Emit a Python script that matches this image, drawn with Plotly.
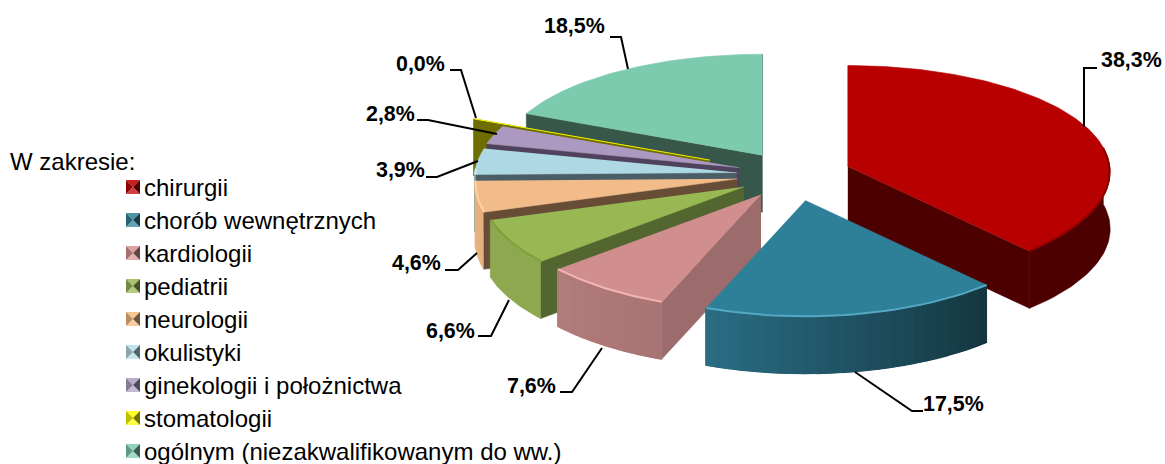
import math
import plotly.graph_objects as go

categories = ["chirurgii", "chorób wewnętrznych", "kardiologii", "pediatrii", "neurologii",
              "okulistyki", "ginekologii i położnictwa", "stomatologii",
              "ogólnym (niezakwalifikowanym do ww.)"]
values = [38.3, 17.5, 7.6, 6.6, 4.6, 3.9, 2.8, 0.04, 18.5]
labels = ["38,3%", "17,5%", "7,6%", "6,6%", "4,6%", "3,9%", "2,8%", "0,0%", "18,5%"]
pulls = [0.22, 0.24, 0.22, 0.22, 0.22, 0.22, 0.22, 0.35, 0.22]

top_colors = ["#b80000", "#2e7f98", "#d08f8e", "#98b854", "#f2bc8a", "#aed8e4", "#ac99c2", "#f4f000", "#7ccbae"]
wall_colors = ["#4d0000", "#14353f", "#9c6b6b", "#546630", "#674c36", "#4b5e66", "#4e425c", "#6e6e00", "#37574b"]
rim_left = ["#4d0000", "#2a6e84", "#b27c7b", "#8da84e", "#e6b080", "#a0c8d4", "#9c8ab0", "#6e6e00", "#37574b"]
rim_right = ["#4d0000", "#14353f", "#a87473", "#8da84e", "#e6b080", "#a0c8d4", "#9c8ab0", "#6e6e00", "#37574b"]
glow_colors = ["#8c0000", "#55a8c2", "#f4b4b2", "#7fa03e", "#ffd0a4", "#c8ecf4", "#c4b4d8", "#f4f000", "#7ccbae"]
swatch_colors = ["#c00000", "#31859c", "#d99694", "#9bbb59", "#f7bc82", "#b7dee8", "#b3a2c7", "#ffff00", "#7fcfb0"]

leaders = [
    [(1097, 68), (1084, 68), (1084, 127)],
    [(855, 372), (912, 411), (923, 411)],
    [(560, 392), (572, 392), (602, 348)],
    [(478, 336), (491, 336), (509, 300)],
    [(445, 270), (458, 270), (477, 253)],
    [(426, 177), (437, 177), (478, 161)],
    [(417, 120), (428, 120), (497, 134)],
    [(450, 70), (461, 70), (476, 118)],
    [(610, 37), (621, 37), (628, 69)],
]
label_pos = [(1131, 60), (953, 404), (531, 386), (450, 331), (416, 263), (400, 170), (390, 114), (420, 64), (574, 26)]

CX, CY, A, B, KX, KY, DEPTH = 794, 175, 262, 108, 0.05, 0.07, 57
W, H = 1165, 464


def pt(theta, r, mid, pull, z=0):
    s, c = math.sin(theta), math.cos(theta)
    return (CX + pull * A * math.sin(mid) + r * A * s / (1 + KX * c),
            CY - pull * B * math.cos(mid) - r * B * c / (1 + KY * c) + z * DEPTH)


def hex_rgb(h):
    return tuple(int(h[i:i + 2], 16) for i in (1, 3, 5))


def mix(c1, c2, t):
    a, b = hex_rgb(c1), hex_rgb(c2)
    return "#%02x%02x%02x" % tuple(round(a[i] + (b[i] - a[i]) * t) for i in range(3))


fig = go.Figure()


def poly(points, color, lw=0.6, name=None):
    fig.add_trace(go.Scatter(x=[p[0] for p in points], y=[p[1] for p in points], mode="lines",
                             fill="toself", fillcolor=color, line=dict(color=color, width=lw),
                             hoverinfo="skip", showlegend=False, name=name))


def stroke(points, color, w):
    fig.add_trace(go.Scatter(x=[p[0] for p in points], y=[p[1] for p in points], mode="lines",
                             line=dict(color=color, width=w), hoverinfo="skip", showlegend=False))


total = sum(values)
angles = [0]
for v in values:
    angles.append(angles[-1] + 2 * math.pi * v / total)

# Painter's order, back to front
for i in [8, 7, 6, 5, 4, 3, 2, 0, 1]:
    t0, t1, p = angles[i], angles[i + 1], pulls[i]
    mid = (t0 + t1) / 2
    # a cut face is drawn only when its outward normal points towards the viewer
    if math.cos(t0 - math.pi / 2) < 0:
        poly([pt(t0, 0, mid, p), pt(t0, 1, mid, p), pt(t0, 1, mid, p, 1), pt(t0, 0, mid, p, 1)], wall_colors[i])
    if math.cos(t1 + math.pi / 2) < 0:
        poly([pt(t1, 0, mid, p), pt(t1, 1, mid, p), pt(t1, 1, mid, p, 1), pt(t1, 0, mid, p, 1)], wall_colors[i])
    a0, a1 = t0, t1
    a0 = max(a0, math.radians(80)) if a0 < math.pi else a0
    a1 = min(a1, math.radians(272)) if a1 > math.pi else a1
    if a1 > a0:
        # solid rim first, so the shaded strips on top leave no seams
        full = [a0 + (a1 - a0) * q / 40 for q in range(41)]
        poly([pt(u, 1, mid, p) for u in full] + [pt(u, 1, mid, p, 1) for u in reversed(full)],
             mix(rim_right[i], rim_left[i], 0.5), 0.6)
        if rim_left[i] != rim_right[i]:
            n = 24
            for j in range(n):
                u0 = a0 + (a1 - a0) * j / n
                u1 = a0 + (a1 - a0) * (j + 1) / n
                arc = [u0 + (u1 - u0) * q / 3 for q in range(4)]
                col = mix(rim_right[i], rim_left[i], (j + 0.5) / n)
                poly([pt(u, 1, mid, p) for u in arc] + [pt(u, 1, mid, p, 1) for u in reversed(arc)], col, 1.2)
    m = max(2, int((t1 - t0) / 0.02))
    arc = [t0 + (t1 - t0) * q / m for q in range(m + 1)]
    poly([pt(t0, 0, mid, p)] + [pt(u, 1, mid, p) for u in arc], top_colors[i], 1 if i == 7 else 0.6, categories[i])
    if a1 > a0:
        hl = [a0 + (a1 - a0) * q / 30 for q in range(31)]
        stroke([pt(u, 0.997, mid, p) for u in hl], glow_colors[i], 2)

# Legend swatches
for i, c in enumerate(swatch_colors):
    x0, x1, y0, y1 = 126, 140, 180 + 33 * i, 194 + 33 * i
    mx, my = (x0 + x1) / 2, (y0 + y1) / 2
    poly([(x0, y0), (x1, y0), (mx, my)], mix(c, "#ffffff", 0.12), 0)
    poly([(x0, y1), (x1, y1), (mx, my)], mix(c, "#ffffff", 0.25), 0)
    poly([(x0, y0), (x0, y1), (mx, my)], mix(c, "#000000", 0.25), 0)
    poly([(x1, y0), (x1, y1), (mx, my)], mix(c, "#000000", 0.55), 0)

# Leader lines
for pts in leaders:
    stroke(pts, "#000000", 2)

annotations = [dict(x=x, y=y, text="<b>%s</b>" % t, showarrow=False, xanchor="center", yanchor="middle",
                    font=dict(family="Liberation Sans", size=21.4, color="#000000"))
               for t, (x, y) in zip(labels, label_pos)]
annotations.append(dict(x=8, y=161, text="W zakresie:", showarrow=False, xanchor="left", yanchor="middle",
                        font=dict(family="Liberation Sans", size=24, color="#000000")))
for i, name in enumerate(categories):
    annotations.append(dict(x=142, y=187 + 33 * i, text=name, showarrow=False, xanchor="left", yanchor="middle",
                            font=dict(family="Liberation Sans", size=24, color="#000000")))

fig.update_layout(
    width=W, height=H, margin=dict(l=0, r=0, t=0, b=0), autosize=False,
    paper_bgcolor="#ffffff", plot_bgcolor="#ffffff",
    xaxis=dict(range=[0, W], visible=False, fixedrange=True),
    yaxis=dict(range=[H, 0], visible=False, fixedrange=True),
    annotations=annotations,
    showlegend=False,
)
fig.write_html("out.html", config={"displayModeBar": False},
               post_script="document.body.style.margin='0';document.documentElement.style.overflow='hidden';")
